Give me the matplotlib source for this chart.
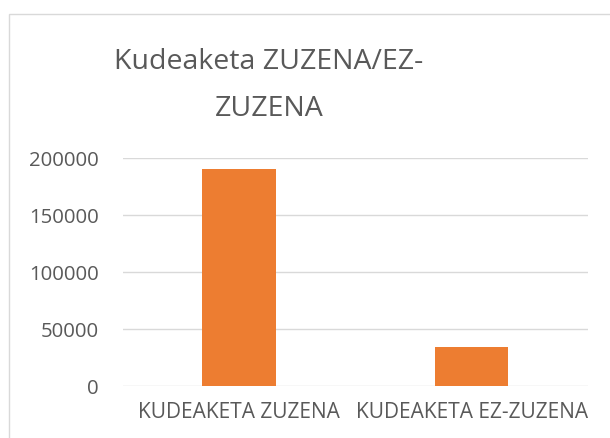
import matplotlib
matplotlib.use("Agg")
import matplotlib.pyplot as plt
from matplotlib.patches import Rectangle

categories = ["KUDEAKETA ZUZENA", "KUDEAKETA EZ-ZUZENA"]
values = [190000, 34000]
yticks = [0, 50000, 100000, 150000, 200000]
title_lines = ["Kudeaketa ZUZENA/EZ-", "ZUZENA"]

W, H = 610, 439
fig = plt.figure(figsize=(W / 100, H / 100), dpi=100)
plt.rcParams['font.family'] = ['Open Sans', 'DejaVu Sans']
textc = '#595959'
gridc = '#D9D9D9'

# chart frame
fig.patches.append(Rectangle((8.5 / W, -0.1), 1.2, 1 - 14.5 / H + 0.1, transform=fig.transFigure,
                             fill=False, edgecolor=gridc, linewidth=1.0))

ax = fig.add_axes([122.7 / W, 1 - 386.7 / H, (588 - 122.7) / W, (386.7 - 159) / H])
x = list(range(len(categories)))
ax.bar(x, values, width=0.315, color='#ED7D31', zorder=3)
ax.set_xlim(-0.5, 1.5)
ax.set_ylim(0, 200000)
ax.set_yticks(yticks)
ax.set_yticklabels([str(v) for v in yticks])
ax.set_xticks(x)
ax.set_xticklabels(categories)
ax.grid(axis='y', color=gridc, linewidth=1.0, zorder=0)
for s in ax.spines.values():
    s.set_visible(False)
ax.tick_params(length=0, colors=textc)
ax.tick_params(axis='y', labelsize=14.7, pad=17)
ax.tick_params(axis='x', labelsize=15, pad=11)

baselines = [69.3, 116]
for line, b in zip(title_lines, baselines):
    fig.text(269 / W, 1 - b / H, line, ha='center', va='baseline', fontsize=20.5, color=textc)

fig.savefig('out.png', dpi=100)
